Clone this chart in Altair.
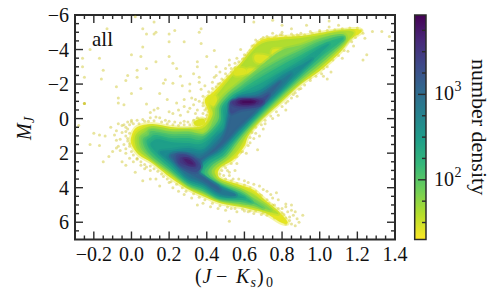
import altair as alt
import pandas as pd

X_DOMAIN = [-0.3, 1.4]
Y_DOMAIN = [-6, 7]
CB_DOMAIN = [20, 8500]
FONT = "Liberation Serif"
INK = "#2b2b2b"
TXT = "#111111"

X_MAJOR = [-0.2, 0.0, 0.2, 0.4, 0.6, 0.8, 1.0, 1.2, 1.4]
X_LABELS = ["−0.2", "0.0", "0.2", "0.4", "0.6", "0.8", "1.0", "1.2", "1.4"]
X_MINOR = [-0.25, -0.15, -0.1, -0.05, 0.05, 0.1, 0.15, 0.25, 0.3, 0.35, 0.45, 0.5, 0.55, 0.65, 0.7, 0.75,
           0.85, 0.9, 0.95, 1.05, 1.1, 1.15, 1.25, 1.3, 1.35]
Y_MAJOR = [-6, -4, -2, 0, 2, 4, 6]
Y_LABELS = ["−6", "−4", "−2", "0", "2", "4", "6"]
Y_MINOR = [-5.5, -5, -4.5, -3.5, -3, -2.5, -1.5, -1, -0.5, 0.5, 1, 1.5, 2.5, 3, 3.5, 4.5, 5, 5.5, 6.5]
CB_MAJOR = [100, 1000]
CB_MINOR = [31.6, 56.2, 178, 316, 562, 1780, 3160, 5620]

VIRIDIS_TOP_DOWN = ["#440154", "#482878", "#3e4989", "#31688e", "#26828e", "#1f9e89", "#35b779", "#6ece58",
                    "#b5de2b", "#fde725"]

SPARSE = [
    (0.02,-5.9),(-0.13,-5.2),(0.12,-5.6),(0.13,-5.0),(0.06,-5.2),(0.23,-5.1),(0.36,-5.0),(0.37,-5.2),(0.08,-4.9),
    (0.12,-4.9),(0.2,-4.9),(0.2,-4.45),(0.28,-4.45),(0.37,-4.35),(0.06,-4.15),(-0.22,-4.0),(-0.11,-4.3),(-0.26,-3.5),
    (-0.17,-3.5),(0,-3.7),(0.05,-3.6),(0.13,-3.3),(0.08,-2.9),(0.03,-2.8),(0.2,-3.6),(0.35,-3.3),(0.35,-3.0),(0.4,-3.6),
    (0.44,-3.95),(0.22,-3.2),(0.24,-2.9),(-0.25,-2.4),(-0.26,-3.0),(-0.15,-2.8),(-0.08,-1.85),(-0.16,-2.3),(-0.03,-2.2),
    (-0.02,-2.5),(0.03,-2.4),(0.05,-1.75),(0,-1.45),(-0.07,-1.2),(-0.07,-0.9),(-0.04,-0.8),(0.08,-0.85),(0.17,-2.05),
    (0.18,-2.25),(0.26,-2.45),(0.22,-2.05),(0.33,-2.6),(0.36,-2.4),(0.15,-1.45),(0.19,-1.1),(0.24,-0.9),(0.32,-1.2),
    (0.34,-1.1),(0.38,-1.3),(0.28,-1.1),(-0.28,0.4),(-0.2,0.85),(-0.17,0.95),(-0.22,1.5),(-0.09,0.95),(-0.05,0.4),
    (-0.03,0.5),(-0.08,1.25),(-0.07,1.6),(-0.25,-0.87),(-0.25,-0.87),(-0.25,-0.87),
    (0.34,-0.3),(0.38,-0.75),(0.42,-1.0),(0.41,-0.4),(0.37,0.1),(0.35,-0.05),(0.28,-0.7),(0.45,-2.5),(0.37,-1.7),
    (0.39,-1.9),(0.43,-2.1),(0.31,-1.6),(0.27,-1.9),(0.31,-2),(0.36,-2.1),
]
LEFT_FRINGE = [
    (-0.07,0.3),(-0.04,0.35),(-0.02,0.2),(0,0.1),(-0.08,0.7),(-0.05,0.8),(-0.03,1.0),(-0.06,1.2),(-0.02,1.3),(-0.04,1.5),
    (-0.01,1.6),(-0.08,1.7),(-0.06,1.85),(-0.03,2.0),(-0.1,1.9),(-0.12,2.2),(-0.15,2.5),(-0.17,1.55),(-0.14,1.0),
    (-0.11,0.5),(-0.01,2.3),(0.01,2.5),(0.03,2.3),(-0.03,2.7),(-0.05,2.5),(0.05,2.7),(0.02,3.1),(0.07,2.9),(0.1,3.0),
    (0.06,3.6),(0.1,3.5),(0.13,3.5),(0.16,3.2),(0.2,3.7),(0.15,3.9),(0.22,4.0),(0.25,4.2),(0.28,4.4),(0.32,4.6),(0.35,5.0),
    (0.38,4.9),(0.42,5.1),(0.46,5.2),(0.5,5.3),(0.53,5.2),(0.56,5.4),(0.6,5.35),(0.65,5.5),(0.52,5.95),
]
TOP_FRINGE = [
    (0.0,0.2),(0.03,0.1),(0.06,0.05),(0.1,-0.05),(0.13,-0.1),(0.15,-0.05),(0.18,0.1),(0.2,0.15),(0.23,0.2),(0.26,0.25),
    (0.28,0.15),(0.3,0.2),(0.33,0.1),(0.36,0.05),(0.38,0.15),(0.4,0),(0.38,-0.3),(0.35,-0.5),(0.4,-0.6),(0.33,-0.8),
    (0.36,-1.0),(0.31,-0.6),(0.3,-0.4),(0.25,-0.5),(0.22,-0.3),(0.2,-0.4),(0.14,-0.6),(0.1,-0.35),(0.12,-0.5),(0.26,-0.2),
    (0.42,-1.3),(0.41,-1.55),(0.43,-1.75),(0.46,-2),(0.48,-2.3),(0.5,-2.6),(0.53,-2.9),(0.55,-3.2),(0.5,-2.9),(0.47,-2.7),
    (0.44,-2.4),(0.45,-3),(0.52,-3.4),(0.56,-3.5),(0.6,-3.7),(0.58,-4),(0.62,-3.8),(0.64,-4.2),(0.66,-4.55),(0.7,-4.7),
    (0.75,-4.95),(0.8,-5),(0.85,-5.2),(0.8,-4.85),(0.9,-4.95),(0.95,-5.05),(1.0,-5.1),(1.05,-5.3),(1.1,-5.4),(0.65,-5.6),
    (0.75,-5.7),(0.8,-5.4),(1.05,-5.65),(0.93,-5.4),(0.72,-4.75),(0.85,-4.9),(0.77,-4.8),(0.88,-4.85),(0.6,-3.5),(0.52,-3.1),
]
RIGHT_FRINGE = [
    (1.2,-4.9),(1.24,-4.65),(1.23,-4.95),(1.28,-5.05),(1.33,-5.05),(1.37,-4.75),(1.18,-4.2),(1.25,-3.7),(1.15,-3.9),
    (1.12,-3.5),(1.02,-2.9),(1.02,-2.45),(1.06,-2.7),(0.95,-2.2),(0.9,-1.75),(0.87,-1.5),(0.85,-1.2),(0.83,-1.0),
    (0.82,-0.5),(0.78,-0.2),(0.75,0.0),(0.71,0.3),(0.7,0.6),(0.66,0.85),(0.68,1.0),(1.04,-2.3),(0.88,-1.3),(1.23,-3.4),
    (0.67,1.8),(0.61,2.0),(0.56,2.6),(0.52,3.1),
]
TAIL_FRINGE = [
    (0.47,3.2),(0.49,3.3),(0.51,3.0),(0.52,3.3),(0.54,3.5),(0.57,3.5),(0.6,3.6),(0.62,3.7),(0.65,3.8),(0.68,3.9),(0.7,4.1),
    (0.72,4.2),(0.75,4.6),(0.77,4.3),(0.78,4.7),(0.82,4.95),(0.85,5.0),(0.87,5.4),(0.83,5.4),(0.84,5.7),(0.85,6.1),
    (0.87,6.2),(0.8,5.7),(0.78,5.6),(0.82,6.1),(0.88,5.8),(0.91,5.6),(0.75,5.3),(0.73,5.5),(0.69,5.55),(0.7,5.2),(0.62,5.4),
    (0.55,3.0),(0.49,2.7),(0.5,2.4),(0.55,2.25),(0.58,1.95),(0.63,1.4),(0.65,1.15),(0.73,4.9),(0.68,4.4),(0.74,4.4),
    (0.76,5.0),(0.8,5.2),(0.82,5.1),(0.85,5.3),(0.86,5.6),(0.81,5.55),(0.89,6.0),
]
EDGE_DOTS = [
    (-0.01,0.35),(-0.02,0.6),(-0.01,0.85),(-0.03,0.75),(-0.02,1.15),(-0.01,1.45),(-0.03,1.75),(0.0,1.9),(0.01,2.1),(0.03,2.35),
    (0.05,2.5),(0.07,2.65),(0.08,2.8),(0.1,2.75),(0.12,2.9),(0.14,3.05),(0.17,3.35),(0.19,3.5),(0.21,3.65),(0.24,3.8),(0.27,4.0),
    (0.29,4.2),(0.33,4.35),(0.36,4.55),(0.39,4.7),(0.43,4.9),(0.47,5.05),(0.51,5.12),(0.55,5.2),(0.59,5.25),(0.63,5.35),
    (0.01,0.3),(0.04,0.3),(0.07,0.15),(0.09,0.15),(0.12,0.12),(0.16,0.2),(0.19,0.3),(0.22,0.35),(0.25,0.4),(0.28,0.35),(0.31,0.35),
    (0.34,0.3),(0.37,0.22),(0.39,0.05),(0.4,-0.2),(0.39,-0.5),(0.38,-0.9),(0.41,-1.3),(0.43,-1.45),(0.45,-1.85),(0.47,-2.05),
    (0.49,-2.2),(0.51,-2.45),(0.53,-2.7),(0.55,-2.95),(0.57,-3.3),(0.59,-3.45),(0.61,-3.65),(0.63,-3.95),(0.65,-4.25),(0.67,-4.45),
    (0.69,-4.6),(0.73,-4.65),(0.76,-4.7),(0.79,-4.85),(0.82,-4.75),(0.86,-4.8),(0.89,-4.8),(0.92,-4.85),(0.96,-4.95),(1.0,-5.02),
    (1.04,-5.1),(1.08,-5.15),(1.12,-5.2),(1.16,-5.25),(1.2,-5.25),(1.22,-5.1),(1.19,-4.7),(1.17,-4.45),(1.13,-3.95),(1.1,-3.65),
    (1.07,-3.4),(1.04,-3.0),(1.01,-2.6),(0.98,-2.45),(0.95,-2.35),(0.92,-1.95),(0.89,-1.7),(0.86,-1.4),(0.82,-0.9),(0.8,-0.7),
    (0.77,-0.4),(0.74,-0.15),(0.71,0.1),(0.69,0.35),(0.66,0.5),(0.64,0.8),(0.63,1.1),(0.62,1.55),(0.59,1.9),(0.56,2.2),(0.53,2.6),
    (0.5,2.85),(0.48,3.0),(0.5,3.5),(0.53,3.6),(0.56,3.75),(0.6,3.85),(0.63,4.0),(0.66,4.2),(0.69,4.45),(0.72,4.7),(0.75,5.0),
    (0.78,5.2),(0.8,5.45),(0.82,5.75),(0.84,5.9),(0.72,5.6),(0.76,5.75),(0.7,5.45),(0.66,5.35),
]

C0 = [(0.00,1.0),(0.03,.49),(0.11,.31),(0.21,.49),(0.30,.54),(0.38,.37),(0.41,-.3),(0.39,-1.08),(0.44,-1.6),(0.58,-3.22),
      (0.68,-4.49),(0.79,-4.72),(0.90,-4.78),(1.00,-4.96),(1.11,-5.13),(1.20,-5.19),(1.22,-5.0),(1.16,-4.55),(1.11,-3.86),
      (1.0,-2.76),(0.90,-2.0),(0.79,-.9),(0.68,.2),(0.62,1.0),(0.6,1.6),(0.54,2.4),(0.47,2.86),(0.47,3.44),(0.58,3.84),
      (0.65,4.13),(0.71,4.71),(0.78,5.35),(0.83,5.99),(0.80,6.05),(0.71,5.47),(0.65,5.29),(0.58,5.12),(0.47,4.89),(0.38,4.48),
      (0.30,4.08),(0.21,3.44),(0.11,2.57),(0.04,2.11),(0.00,1.5)]
C1 = [(0.02,1.0),(0.05,.66),(0.11,.43),(0.21,.6),(0.30,.6),(0.38,.54),(0.43,-.2),(0.42,-.9),(0.47,-1.6),(0.58,-3.05),(0.68,-4.26),
      (0.79,-4.55),(0.90,-4.67),(1.0,-4.84),(1.11,-5.07),(1.18,-5.0),(1.15,-4.5),(1.11,-4.03),(1.0,-2.93),(0.90,-2.12),(0.79,-1.02),
      (0.68,.08),(0.62,.85),(0.58,1.6),(0.53,2.25),(0.45,2.92),(0.45,3.3),(0.47,3.56),(0.58,4.02),(0.65,4.37),(0.71,4.89),(0.78,5.5),
      (0.71,5.35),(0.65,5.18),(0.58,5.0),(0.47,4.77),(0.38,4.37),(0.30,3.96),(0.21,3.27),(0.11,2.45),(0.04,1.93),(0.02,1.5)]
C2 = [(0.04,1.1),(0.07,.8),(0.11,.54),(0.21,.72),(0.30,.72),(0.39,.85),(0.44,-.1),(0.45,-.7),(0.50,-1.4),(0.58,-2.12),(0.68,-2.99),
      (0.79,-3.91),(0.90,-4.26),(1.0,-4.67),(1.11,-4.9),(1.14,-4.7),(1.11,-4.2),(1.0,-3.1),(0.90,-2.23),(0.79,-1.19),(0.68,-.03),
      (0.61,.8),(0.56,1.5),(0.51,2.2),(0.44,2.8),(0.43,3.2),(0.47,3.67),(0.58,4.13),(0.65,4.6),(0.71,5.0),(0.74,5.29),(0.71,5.23),
      (0.65,5.06),(0.58,4.94),(0.47,4.71),(0.38,4.25),(0.30,3.9),(0.21,3.15),(0.11,2.34),(0.05,1.76)]
C3 = [(0.06,1.2),(0.09,.95),(0.11,.72),(0.21,.89),(0.30,.89),(0.39,.95),(0.46,.1),(0.47,-.7),(0.52,-1.4),(0.58,-1.89),(0.68,-2.7),
      (0.79,-3.39),(0.90,-3.97),(1.0,-4.49),(1.11,-4.78),(1.13,-4.6),(1.11,-4.32),(1.0,-3.28),(0.90,-2.41),(0.79,-1.31),(0.68,-.15),
      (0.60,.75),(0.55,1.45),(0.50,2.15),(0.43,2.7),(0.41,3.2),(0.47,3.79),(0.58,4.25),(0.65,4.8),(0.70,5.18),(0.65,4.94),(0.58,4.83),
      (0.47,4.66),(0.38,4.19),(0.30,3.79),(0.21,3.03),(0.11,2.22),(0.07,1.7)]
C4 = [(0.08,1.35),(0.10,1.1),(0.13,.95),(0.21,1.12),(0.30,1.12),(0.38,1.18),(0.47,.2),(0.48,-.7),(0.53,-1.3),(0.58,-1.66),(0.68,-2.35),
      (0.79,-3.05),(0.90,-3.68),(1.0,-4.26),(1.10,-4.65),(1.12,-4.55),(1.0,-3.5),(0.90,-2.52),(0.79,-1.42),(0.68,-.27),(0.59,.75),
      (0.54,1.4),(0.49,2.1),(0.42,2.6),(0.39,3.2),(0.47,3.84),(0.58,4.37),(0.64,4.85),(0.58,4.71),(0.47,4.6),(0.38,4.08),(0.30,3.73),
      (0.21,2.92),(0.11,1.99)]
C5 = [(0.10,1.5),(0.12,1.25),(0.15,1.2),(0.21,1.35),(0.30,1.41),(0.38,1.41),(0.48,.35),(0.49,-.6),(0.54,-1.25),(0.58,-1.48),(0.68,-2.0),
      (0.79,-2.7),(0.90,-3.39),(1.0,-4.09),(1.05,-4.3),(1.0,-3.74),(0.90,-2.7),(0.79,-1.54),(0.68,-.38),(0.58,.8),(0.53,1.4),(0.48,2.0),
      (0.40,2.55),(0.37,3.2),(0.47,3.9),(0.58,4.48),(0.59,4.6),(0.47,4.54),(0.38,3.96),(0.30,3.61),(0.21,2.74),(0.13,1.95)]
C6 = [(0.15,1.95),(0.21,1.82),(0.30,1.7),(0.38,1.76),(0.45,1.0),(0.50,.5),(0.51,-.5),(0.55,-1.15),(0.58,-1.37),(0.68,-1.66),(0.79,-2.47),
      (0.90,-3.1),(0.96,-3.45),(0.90,-2.81),(0.79,-1.66),(0.68,-.5),(0.57,.75),(0.52,1.35),(0.47,1.9),(0.39,2.45),(0.36,3.15),(0.47,3.96),
      (0.54,4.35),(0.47,4.42),(0.38,3.85),(0.30,3.5),(0.21,2.55)]
C7 = [(0.20,2.1),(0.30,1.93),(0.38,1.99),(0.46,1.2),(0.50,.6),(0.52,-.4),(0.56,-1.1),(0.58,-1.25),(0.68,-1.48),(0.79,-2.23),(0.85,-2.6),
      (0.79,-1.77),(0.68,-.61),(0.56,.7),(0.51,1.3),(0.46,1.85),(0.38,2.4),(0.35,3.1),(0.47,4.02),(0.55,4.35),(0.54,4.5),(0.47,4.35),(0.38,3.73),
      (0.30,3.38),(0.23,2.6)]
C8 = [(0.21,2.1),(0.28,2.0),(0.37,2.28),(0.46,1.5),(0.50,.8),(0.53,-.4),(0.56,-1.0),(0.58,-1.19),(0.68,-1.31),(0.79,-2.12),(0.68,-.67),
      (0.56,.6),(0.51,1.2),(0.45,1.8),(0.38,2.3),(0.35,3.0),(0.40,3.5),(0.46,3.95),(0.46,4.15),(0.38,3.6),(0.30,3.15),(0.24,2.6)]
C9_LOW = [(0.24,2.1),(0.30,2.1),(0.35,2.4),(0.37,2.8),(0.34,3.1),(0.27,2.83),(0.24,2.5)]
C9_UP = [(0.53,-1.0),(0.58,-1.13),(0.68,-1.19),(0.73,-1.4),(0.68,-.73),(0.58,-.5),(0.53,-.3),(0.52,-.7)]
C10_LOW = [(0.26,2.25),(0.30,2.25),(0.34,2.55),(0.34,2.8),(0.30,2.75),(0.26,2.55)]
C10_UP = [(0.54,-1.0),(0.62,-1.08),(0.68,-1.1),(0.70,-1.0),(0.68,-.8),(0.62,-.7),(0.55,-.75)]
C11_LOW = [(0.28,2.35),(0.31,2.4),(0.33,2.65),(0.30,2.6)]
C11_UP = [(0.57,-1.05),(0.63,-1.08),(0.67,-1.0),(0.63,-.85),(0.57,-.85)]
C12_UP = [(0.59,-1.0),(0.63,-1.02),(0.65,-.95),(0.62,-.9),(0.59,-.92)]
PATCH_A = [(0.55,-2.9),(0.60,-2.9),(0.61,-2.6),(0.55,-2.5)]
PATCH_B = [(0.62,-2.9),(0.68,-2.8),(0.67,-2.5),(0.62,-2.55)]
PATCH_C = [(0.66,-3.7),(0.73,-3.6),(0.72,-3.2),(0.66,-3.3)]
PATCH_D = [(0.75,-4.0),(0.80,-4.0),(0.80,-3.6),(0.75,-3.6)]
PATCH_E = [(0.33,0.2),(0.38,0.0),(0.39,0.3),(0.35,0.45)]
PATCH_F = [(0.41,-1.2),(0.45,-1.3),(0.45,-0.8),(0.42,-0.8)]

CONTOURS = [
    (C0, 25), (C1, 41), (PATCH_A, 27), (PATCH_B, 27), (PATCH_C, 27), (PATCH_D, 27), (PATCH_E, 27), (PATCH_F, 27),
    (C2, 67), (C3, 110), (C4, 177), (C5, 286), (C6, 465), (C7, 756), (C8, 1230), (C9_LOW, 2000), (C9_UP, 2000),
    (C10_LOW, 3240), (C10_UP, 3240), (C11_LOW, 5270), (C11_UP, 5270), (C12_UP, 7400),
]

FS = 20
X_TITLE = [("(", 120, 268, FS, "normal"), ("J", 127.5, 268, FS, "italic"), ("−", 141, 268, FS, "normal"),
           ("K", 161, 268, FS, "italic"), ("s", 175.5, 272, 14, "italic"), (")", 182, 268, FS, "normal"),
           ("0", 191, 272, 14, "normal")]

W, H = 320, 224.5
x_scale = alt.Scale(domain=X_DOMAIN, nice=False, zero=False)
y_scale = alt.Scale(domain=Y_DOMAIN, nice=False, zero=False, reverse=True)
cb_scale = alt.Scale(type="log", domain=CB_DOMAIN, nice=False)
color_scale = alt.Scale(type="log", domain=CB_DOMAIN, range=VIRIDIS_TOP_DOWN[::-1])

layers = []
pts = pd.DataFrame(SPARSE + LEFT_FRINGE + TOP_FRINGE + RIGHT_FRINGE + TAIL_FRINGE + EDGE_DOTS, columns=["x", "y"])
layers.append(alt.Chart(pts).mark_circle(size=9, color="#c9bf12", opacity=0.42).encode(
    x=alt.X("x:Q", scale=x_scale, axis=None), y=alt.Y("y:Q", scale=y_scale, axis=None)))

for poly, d in CONTOURS:
    df = pd.DataFrame(poly, columns=["x", "y"])
    df["o"] = range(len(df))
    df["d"] = d
    layers.append(alt.Chart(df).mark_line(interpolate="cardinal-closed", strokeWidth=4, strokeOpacity=0.4).encode(
        x=alt.X("x:Q", scale=x_scale, axis=None), y=alt.Y("y:Q", scale=y_scale, axis=None),
        order=alt.Order("o:Q"),
        fill=alt.Fill("d:Q", scale=color_scale, legend=None),
        stroke=alt.Stroke("d:Q", scale=color_scale, legend=None)))


def x_ticks(vals, length, top):
    a, b = (0, length) if top else (H, H - length)
    return alt.Chart(pd.DataFrame({"x": vals})).mark_rule(color=INK, strokeWidth=1.4).encode(
        x=alt.X("x:Q", scale=x_scale, axis=None), y=alt.value(a), y2=alt.value(b))


def y_ticks(vals, length, right):
    a, b = (W, W - length) if right else (0, length)
    return alt.Chart(pd.DataFrame({"y": vals})).mark_rule(color=INK, strokeWidth=1.4).encode(
        y=alt.Y("y:Q", scale=y_scale, axis=None), x=alt.value(a), x2=alt.value(b))


for top in (False, True):
    layers += [x_ticks(X_MAJOR, 8, top), x_ticks(X_MINOR, 4, top)]
for right in (False, True):
    layers += [y_ticks(Y_MAJOR, 8, right), y_ticks(Y_MINOR, 4, right)]

layers.append(alt.Chart(pd.DataFrame({"x": X_MAJOR, "t": X_LABELS})).mark_text(
    baseline="alphabetic", align="center", font=FONT, fontSize=FS, color=TXT).encode(
    x=alt.X("x:Q", scale=x_scale, axis=None), y=alt.value(245.5), text="t:N"))
layers.append(alt.Chart(pd.DataFrame({"y": Y_MAJOR, "t": Y_LABELS})).mark_text(
    baseline="middle", align="right", dy=1, font=FONT, fontSize=FS, color=TXT).encode(
    y=alt.Y("y:Q", scale=y_scale, axis=None), x=alt.value(-6), text="t:N"))

for txt, px, py, size, style in X_TITLE:
    layers.append(alt.Chart(pd.DataFrame({"t": [txt]})).mark_text(
        align="left", baseline="alphabetic", font=FONT, fontSize=size, fontStyle=style, color=TXT).encode(
        text="t:N", x=alt.value(px), y=alt.value(py)))

layers.append(alt.Chart(pd.DataFrame({"t": ["all"]})).mark_text(
    align="left", baseline="alphabetic", font=FONT, fontSize=21, color=TXT).encode(
    text="t:N", x=alt.value(17), y=alt.value(30.7)))
layers.append(alt.Chart(pd.DataFrame({"t": ["M"]})).mark_text(
    angle=270, align="left", baseline="alphabetic", font=FONT, fontSize=20, fontStyle="italic", color=TXT).encode(
    text="t:N", x=alt.value(-44), y=alt.value(125)))
layers.append(alt.Chart(pd.DataFrame({"t": ["J"]})).mark_text(
    angle=270, align="left", baseline="alphabetic", font=FONT, fontSize=14, fontStyle="italic", color=TXT).encode(
    text="t:N", x=alt.value(-41), y=alt.value(108)))

# colour bar
grad = alt.Gradient(gradient="linear", x1=0, x2=0, y1=0, y2=1,
                    stops=[alt.GradientStop(color=c, offset=i / (len(VIRIDIS_TOP_DOWN) - 1))
                           for i, c in enumerate(VIRIDIS_TOP_DOWN)])
layers.append(alt.Chart(pd.DataFrame({"a": [0]})).mark_rect(fill=grad, stroke=INK, strokeWidth=1.5).encode(
    x=alt.value(339.7), x2=alt.value(351), y=alt.value(0), y2=alt.value(H)))
layers.append(alt.Chart(pd.DataFrame({"v": CB_MAJOR})).mark_rule(color=INK, strokeWidth=1.4).encode(
    y=alt.Y("v:Q", scale=cb_scale, axis=None), x=alt.value(343), x2=alt.value(351)))
layers.append(alt.Chart(pd.DataFrame({"v": CB_MINOR})).mark_rule(color=INK, strokeWidth=1.4).encode(
    y=alt.Y("v:Q", scale=cb_scale, axis=None), x=alt.value(347), x2=alt.value(351)))
cbl = pd.DataFrame({"v": CB_MAJOR, "t": ["10", "10"], "e": ["2", "3"]})
layers.append(alt.Chart(cbl).mark_text(align="left", baseline="middle", font=FONT, fontSize=FS, color=TXT).encode(
    text="t:N", y=alt.Y("v:Q", scale=cb_scale, axis=None), x=alt.value(359)))
layers.append(alt.Chart(cbl).mark_text(align="left", baseline="middle", dy=-7, font=FONT, fontSize=14, color=TXT).encode(
    text="e:N", y=alt.Y("v:Q", scale=cb_scale, axis=None), x=alt.value(379.5)))
layers.append(alt.Chart(pd.DataFrame({"t": ["number density"]})).mark_text(
    angle=90, align="center", baseline="alphabetic", font=FONT, fontSize=22, color=TXT).encode(
    text="t:N", x=alt.value(397), y=alt.value(112)))

chart = alt.layer(*layers).resolve_scale(y="independent").properties(
    width=W, height=H,
    autosize=alt.AutoSizeParams(type="none"),
    padding={"left": 67, "top": 7, "right": 97, "bottom": 52},
).configure_view(stroke=INK, strokeWidth=2)

chart.save("out.html", embed_options={"renderer": "svg", "actions": False})
